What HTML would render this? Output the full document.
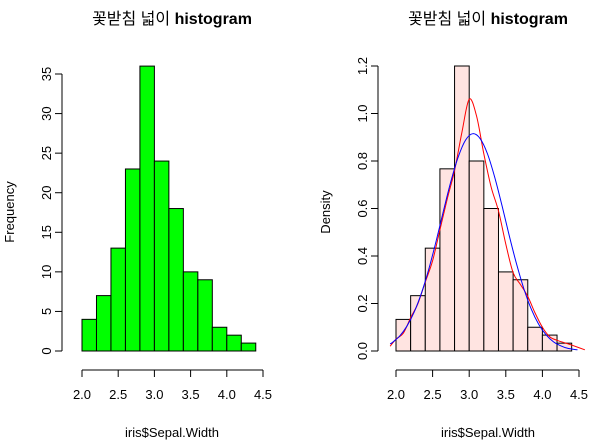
<!DOCTYPE html>
<html><head><meta charset="utf-8"><style>
body{margin:0;background:#fff;}
svg{display:block;font-family:"Liberation Sans","Noto Sans CJK KR",sans-serif;}
</style></head><body>
<svg id="c" width="602" height="445"></svg>
<script>
const breaks=[2.0,2.2,2.4,2.6,2.8,3.0,3.2,3.4,3.6,3.8,4.0,4.2,4.4];
const counts=[4,7,13,23,36,24,18,10,9,3,2,1];
const densities=[0.133,0.233,0.433,0.767,1.2,0.8,0.6,0.333,0.3,0.1,0.067,0.033];
const xTicks=[2.0,2.5,3.0,3.5,4.0,4.5];
const xTickLabels=["2.0","2.5","3.0","3.5","4.0","4.5"];
const freqTicks=[0,5,10,15,20,25,30,35];
const densTicks=[0,0.2,0.4,0.6,0.8,1.0,1.2];
const densTickLabels=["0.0","0.2","0.4","0.6","0.8","1.0","1.2"];
const kdeX=[1.92,2.0,2.1,2.2,2.3,2.4,2.5,2.6,2.7,2.8,2.9,3.0,3.1,3.2,3.3,3.4,3.5,3.6,3.7,3.8,3.9,4.0,4.1,4.2,4.3,4.4,4.58];
const kdeY=[0.02,0.05,0.075,0.14,0.2,0.29,0.38,0.51,0.64,0.76,0.92,1.06,0.99,0.83,0.69,0.59,0.45,0.33,0.28,0.23,0.16,0.1,0.06,0.045,0.035,0.025,0.005];
const normX=[1.92,1.95,2.05,2.15,2.25,2.35,2.45,2.55,2.65,2.75,2.85,2.95,3.05,3.15,3.25,3.35,3.45,3.55,3.65,3.75,3.85,3.95,4.05,4.15,4.25,4.35,4.48];
const normY=[0.03,0.036,0.063,0.105,0.165,0.246,0.347,0.465,0.592,0.714,0.817,0.888,0.915,0.894,0.83,0.73,0.61,0.482,0.363,0.259,0.175,0.112,0.068,0.039,0.022,0.011,0.005];

const svg=document.getElementById('c');
const NS='http://www.w3.org/2000/svg';
function mk(tag,attrs,parent){const e=document.createElementNS(NS,tag);for(const k in attrs)e.setAttribute(k,attrs[k]);(parent||svg).appendChild(e);return e;}
function smooth(pts){
  let d='M'+pts[0][0]+','+pts[0][1];
  for(let i=0;i<pts.length-1;i++){
    const p0=pts[i-1]||pts[i],p1=pts[i],p2=pts[i+1],p3=pts[i+2]||p2;
    const c1=[p1[0]+(p2[0]-p0[0])/6,p1[1]+(p2[1]-p0[1])/6];
    const c2=[p2[0]-(p3[0]-p1[0])/6,p2[1]-(p3[1]-p1[1])/6];
    d+=' C'+c1[0]+','+c1[1]+' '+c2[0]+','+c2[1]+' '+p2[0]+','+p2[1];
  }
  return d;
}

function panel(opt){
  const g=mk('g',{});
  
  
  const sx=v=>opt.x0+(v-2.0)*opt.kx;
  const sy=v=>351-v*opt.ky;
  opt.vals.forEach((v,i)=>{
    const r=mk('rect',{x:sx(breaks[i]),y:sy(v),width:sx(breaks[i+1])-sx(breaks[i]),height:351-sy(v),fill:opt.fill,stroke:'#000','stroke-width':1},g);
    
    
  });
  const xa=mk('g',{},g);
  
  
  mk('line',{x1:sx(xTicks[0]),x2:sx(xTicks[xTicks.length-1]),y1:370,y2:370,stroke:'#000'},xa);
  xTicks.forEach((t,i)=>{
    mk('line',{x1:sx(t),x2:sx(t),y1:370,y2:377,stroke:'#000'},xa);
    const tx=mk('text',{x:sx(t),y:399,'text-anchor':'middle','font-size':13},xa);
    tx.textContent=xTickLabels[i];
  });
  const ya=mk('g',{},g);
  
  
  mk('line',{x1:opt.yx,x2:opt.yx,y1:sy(opt.yt[0]),y2:sy(opt.yt[opt.yt.length-1]),stroke:'#000'},ya);
  opt.yt.forEach((t,i)=>{
    mk('line',{x1:opt.yx,x2:opt.yx-7,y1:sy(t),y2:sy(t),stroke:'#000'},ya);
    const tx=mk('text',{x:opt.yx-11,y:sy(t),'text-anchor':'middle','font-size':13,transform:`rotate(-90 ${opt.yx-11} ${sy(t)})`},ya);
    tx.textContent=opt.ytl[i];
  });
  const yl=mk('text',{x:opt.yx-48,y:212,'text-anchor':'middle','font-size':13,transform:`rotate(-90 ${opt.yx-48} 212)`},g);
  yl.textContent=opt.ylab;
  
  
  const xl=mk('text',{x:opt.cx,y:437,'text-anchor':'middle','font-size':13},g);
  xl.textContent='iris$Sepal.Width';
  
  
  const tt=mk('text',{x:opt.cx,y:24,'text-anchor':'middle','font-size':16},g);
  
  
  const a=mk('tspan',{},tt);a.textContent='꽃받침 넓이 ';
  const b=mk('tspan',{'font-weight':'bold'},tt);b.textContent='histogram';
  return {g,sx,sy};
}

panel({name:'frequency-panel',x0:82,kx:72.4,ky:7.914,vals:counts,fill:'#00ff00',yx:62,yt:freqTicks,ytl:freqTicks.map(String),ylab:'Frequency',cx:172});
const p2=panel({name:'density-panel',x0:396,kx:73.2,ky:237.5,vals:densities,fill:'#ffe4e1',yx:378,yt:densTicks,ytl:densTickLabels,ylab:'Density',cx:488});
const kd=mk('path',{d:smooth(kdeX.map((x,i)=>[p2.sx(x),p2.sy(kdeY[i])])),fill:'none',stroke:'#ff0000','stroke-width':1},p2.g);


const nm=mk('path',{d:smooth(normX.map((x,i)=>[p2.sx(x),p2.sy(normY[i])])),fill:'none',stroke:'#0000ff','stroke-width':1},p2.g);


</script>
</body></html>
